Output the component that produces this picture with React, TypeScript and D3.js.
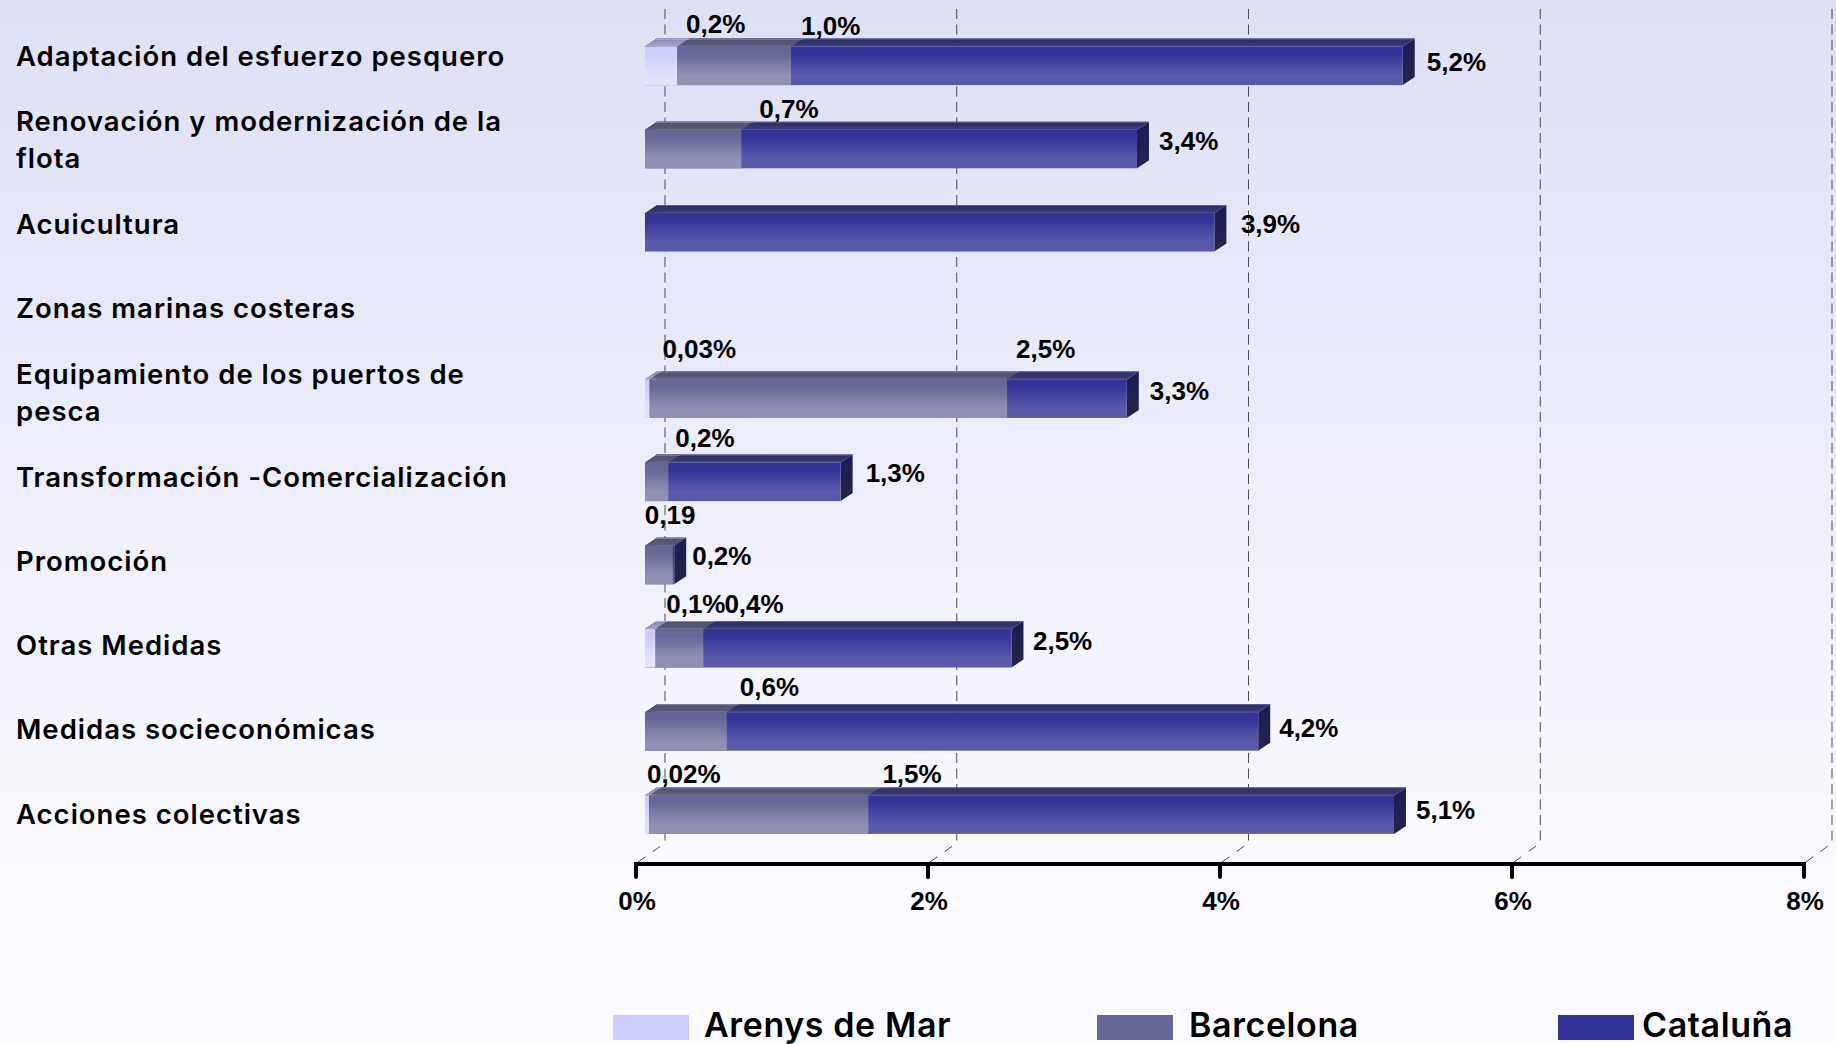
import React from "react";
import * as d3 from "d3";

const categories = [
  ["Adaptación del esfuerzo pesquero"],
  ["Renovación y modernización de la", "flota"],
  ["Acuicultura"],
  ["Zonas marinas costeras"],
  ["Equipamiento de los puertos de", "pesca"],
  ["Transformación -Comercialización"],
  ["Promoción"],
  ["Otras Medidas"],
  ["Medidas socieconómicas"],
  ["Acciones colectivas"],
];
const arenys = [0.22, 0, 0, 0, 0.03, 0, 0, 0.07, 0, 0.027];
const barcelona = [1.0, 0.66, 0, 0, 2.48, 0.16, 0.19, 0.4, 0.56, 1.53];
const cataluna = [5.19, 3.37, 3.9, 0, 3.3, 1.34, 0.2, 2.51, 4.2, 5.13];
const arenysText = ["0,2%", "", "", "", "0,03%", "", "", "0,1%", "", "0,02%"];
const barcelonaText = ["1,0%", "0,7%", "", "", "2,5%", "0,2%", "0,19", "0,4%", "0,6%", "1,5%"];
const catalunaText = ["5,2%", "3,4%", "3,9%", "", "3,3%", "1,3%", "0,2%", "2,5%", "4,2%", "5,1%"];
const axisTicks = [0, 2, 4, 6, 8];
const legendNames = ["Arenys de Mar", "Barcelona", "Cataluña"];

// label nudges relative to the end of each bar: [dx, dy]
const arenysNudge = [[9, -29], null, null, null, [13, -36.5], null, null, [11, -31], null, [-2, -27.5]];
const barcelonaNudge = [[10, -27], [18, -27], null, null, [9, -36.5], [7, -31], [-28, -37], [21, -31], [13, -31], [14, -27.5]];
const catalunaNudge = [[24, 9], [22, 5], [26.5, 5], null, [23, 6], [25, 4], [18, 4], [21.5, 6], [21, 10], [22, 9]];

const W = 1836, H = 1044;
const DX = 12, DY = 8;

const x = d3.scaleLinear().domain([0, 8]).range([636, 1804]);
const gridX = d3.scaleLinear().domain([0, 8]).range([665, 1832]);
const y = d3.scaleBand<number>().domain(d3.range(categories.length)).range([20, 852]);
const labelY = d3.scalePoint<number>().domain(d3.range(categories.length)).range([65.7, 823.5]);
const BAR_SHIFT = 9;
const FRONT_TOP = 15, BOTTOM = 23.5;

const seriesDefs = [
  { name: "cat", values: cataluna, text: catalunaText, nudge: catalunaNudge, front: ["#333399", "#5a5aaa"], top: ["#2a2a6e", "#3c3c74"], side: ["#1c1c55", "#25254a"], hi: "#5d5d85", hasSide: true },
  { name: "bar", values: barcelona, text: barcelonaText, nudge: barcelonaNudge, front: ["#666699", "#9090b5"], top: ["#50507a", "#5a5a74"], side: ["#33336b", "#40405f"], hi: "#8a8aa2", hasSide: false },
  { name: "are", values: arenys, text: arenysText, nudge: arenysNudge, front: ["#ccccff", "#e2e2fb"], top: ["#8888b8", "#a5a5c8"], side: ["#8888b8", "#9a9ac0"], hi: "#b5b5d5", hasSide: false },
];

const VALUE_FONT = "'Liberation Sans', Arial, sans-serif";
const LABEL_FONT = "Inter, sans-serif";

function Bar({ s, i }: { s: (typeof seriesDefs)[number]; i: number }) {
  const v = s.values[i];
  if (!v) return null;
  const c = (y(i) as number) + y.bandwidth() / 2;
  const x0 = x(0) + BAR_SHIFT;
  const x1 = x0 + x(v) - x(0);
  const ft = c - FRONT_TOP, fb = c + BOTTOM;
  const top = d3.line()([[x0, ft], [x0 + DX, ft - DY], [x1 + DX, ft - DY], [x1, ft]]) + "Z";
  const side = d3.line()([[x1, ft], [x1 + DX, ft - DY], [x1 + DX, fb - DY], [x1, fb]]) + "Z";
  return (
    <g>
      {s.hasSide && <path d={side} fill={`url(#${s.name}-side)`} />}
      <path d={top} fill={`url(#${s.name}-top)`} />
      <line x1={x0 + DX - 1} x2={x1 + DX} y1={ft - DY + 0.5} y2={ft - DY + 0.5} stroke={s.hi} strokeWidth={1} />
      <line x1={x0 + 12} x2={x1} y1={ft - 0.5} y2={ft - 0.5} stroke={s.hi} strokeWidth={1} opacity={0.6} />
      <rect x={x0} y={ft} width={x1 - x0} height={fb - ft} fill={`url(#${s.name}-front)`} />
    </g>
  );
}

export default function App() {
  const gridBase = 843;
  const axisY = 864;
  return (
    <svg width={W} height={H} style={{ position: "fixed", left: 0, top: 0, display: "block" }}>
      <defs>
        <linearGradient id="bg" x1="0" x2="0" y1="0" y2="1">
          <stop offset="0" stopColor="#dee0f4" />
          <stop offset="0.85" stopColor="#fafaff" />
          <stop offset="1" stopColor="#fbfbff" />
        </linearGradient>
        {seriesDefs.map((s) =>
          (["front", "top", "side"] as const).map((k) => (
            <linearGradient key={s.name + k} id={`${s.name}-${k}`} x1="0" x2="0" y1="0" y2="1">
              <stop offset={k === "front" ? "0.18" : "0"} stopColor={s[k][0]} />
              <stop offset={k === "front" ? "0.75" : "1"} stopColor={s[k][1]} />
            </linearGradient>
          ))
        )}
      </defs>
      <rect width={W} height={H} fill="url(#bg)" />

      {axisTicks.map((t) => (
        <g key={t} fill="none" stroke="#4a4a55" strokeWidth={1}>
          <line x1={gridX(t)} x2={gridX(t)} y1={9} y2={gridBase} strokeDasharray="10 5.5" />
          <line x1={x(t) + 2} x2={gridX(t)} y1={axisY - 2} y2={gridBase} strokeDasharray="9 9" />
        </g>
      ))}

      {seriesDefs.map((s) => (
        <g key={s.name}>
          {categories.map((_, i) => (
            <Bar key={i} s={s} i={i} />
          ))}
        </g>
      ))}

      <line x1={x(0) - 2} x2={x(8) + 2} y1={axisY} y2={axisY} stroke="#000" strokeWidth={4} />
      {axisTicks.map((t) => (
        <g key={t}>
          <line x1={x(t)} x2={x(t)} y1={axisY} y2={axisY + 13} stroke="#000" strokeWidth={4} strokeLinecap="round" />
          <text x={x(t) + 1} y={910} textAnchor="middle" fontFamily={VALUE_FONT} fontWeight="bold" fontSize={26} fill="#000">
            {t}%
          </text>
        </g>
      ))}

      {categories.map((lines, i) =>
        lines.map((ln, j) => (
          <text
            key={ln}
            x={16}
            y={(labelY(i) as number) + (lines.length > 1 ? (j === 0 ? -18.5 : 18.5) : 0)}
            fontFamily={LABEL_FONT}
            fontWeight={600}
            fontSize={27.5}
            letterSpacing={1}
            fill="#000"
          >
            {ln}
          </text>
        ))
      )}

      {seriesDefs.map((s) =>
        s.text.map((t, i) => {
          const n = s.nudge[i];
          if (!t || !n) return null;
          const c = (y(i) as number) + y.bandwidth() / 2;
          return (
            <text key={s.name + i} x={x(s.values[i]) + BAR_SHIFT + n[0]} y={c + n[1]} fontFamily={VALUE_FONT} fontWeight="bold" fontSize={26} fill="#000">
              {t}
            </text>
          );
        })
      )}

      {legendNames.map((name, i) => {
        const sx = [613, 1097, 1558][i];
        const s = seriesDefs[2 - i];
        return (
          <g key={name}>
            <rect x={sx} y={1015} width={76} height={25} fill={s.front[0]} />
            <text x={[704, 1189, 1642][i]} y={1037} fontFamily={LABEL_FONT} fontWeight={600} fontSize={34} letterSpacing={0.6} fill="#000">
              {name}
            </text>
          </g>
        );
      })}
    </svg>
  );
}
